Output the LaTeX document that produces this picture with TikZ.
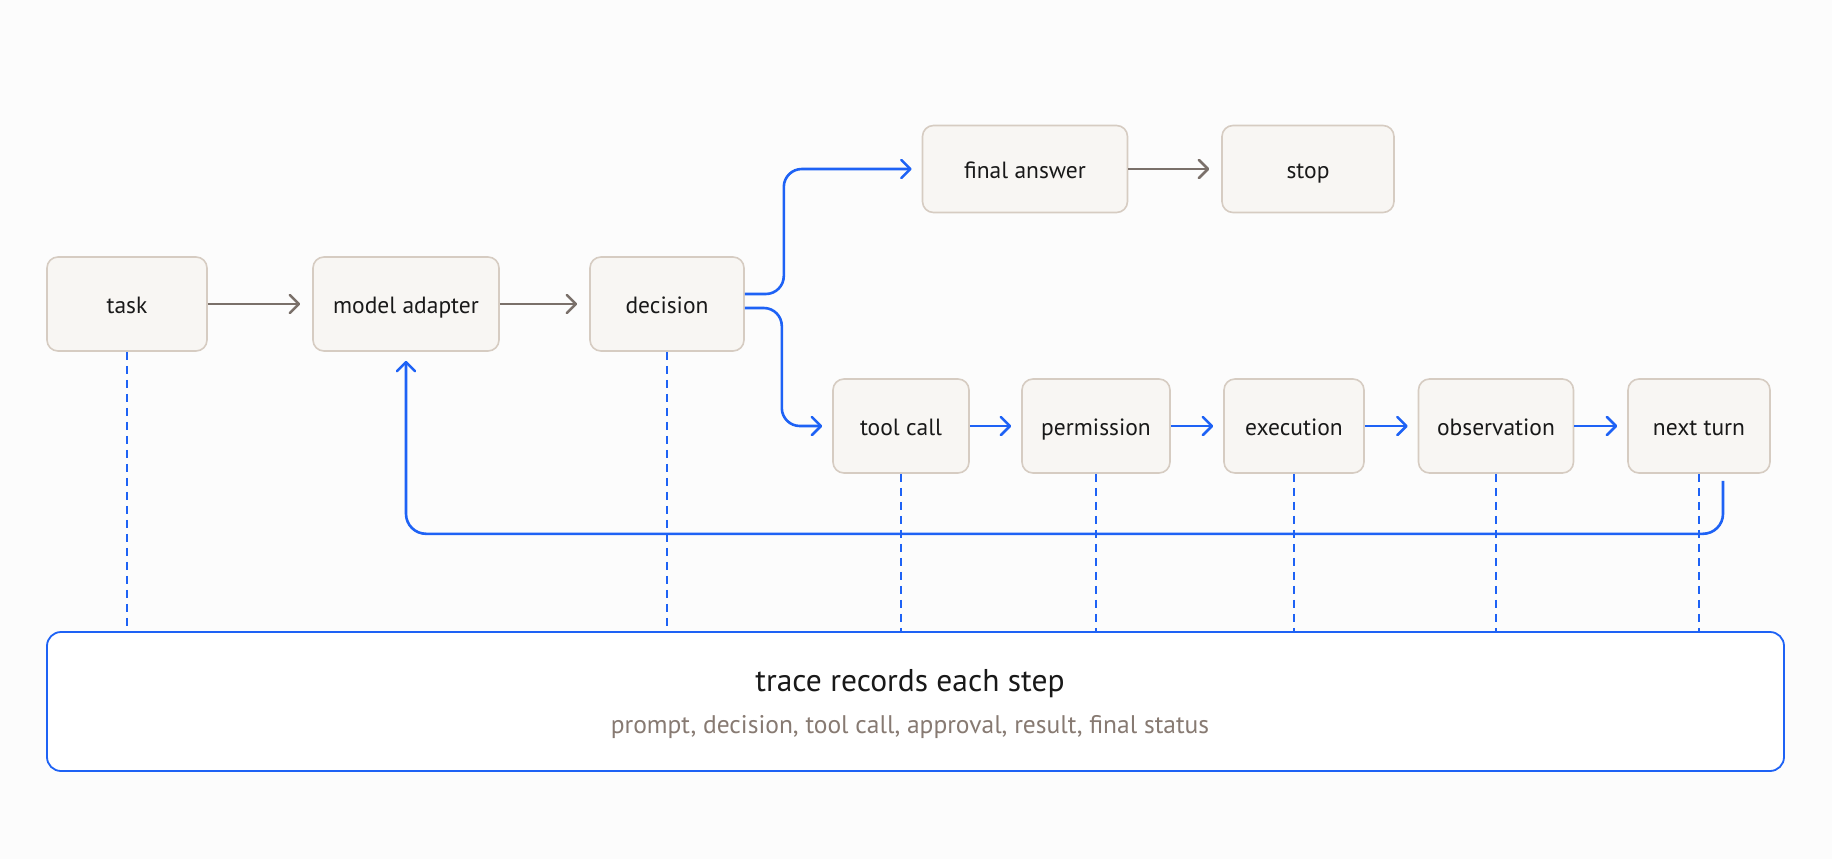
\documentclass[tikz,border=0pt]{standalone}
\usepackage{fontspec}
\setmainfont{PT Sans}
\usetikzlibrary{arrows.meta}
\definecolor{bg}{RGB}{252,252,252}
\definecolor{boxfill}{RGB}{248,246,243}
\definecolor{boxline}{RGB}{214,204,194}
\definecolor{flowblue}{RGB}{30,98,245}
\definecolor{greyarr}{RGB}{122,112,106}
\definecolor{subgrey}{RGB}{135,122,114}
\definecolor{ink}{RGB}{25,25,25}
\begin{document}
\begin{tikzpicture}[x=1pt,y=-1pt,
  stepbox/.style={draw=boxline, line width=1.6pt, fill=boxfill, rounded corners=11pt,
    minimum height=94, text=ink, font=\fontsize{23.5}{27}\selectfont, inner sep=0pt,
    text height=20pt, text depth=1pt},
  greyflow/.style={draw=greyarr, line width=2.6pt, shorten >=12pt,
    -{Straight Barb[length=9pt,width=18pt,line width=2.6pt,round]}},
  blueflow/.style={draw=flowblue, line width=2.6pt, shorten >=10pt,
    -{Straight Barb[length=9pt,width=18pt,line width=2.6pt,round]}},
  traceline/.style={draw=flowblue, line width=1.4pt, dash pattern=on 8pt off 6pt}
]
\useasboundingbox (0,0) rectangle (1832,859);
\fill[bg] (0,0) rectangle (1832,859);

% top row
\node[stepbox, minimum width=160] (task) at (127,304) {task};
\node[stepbox, minimum width=186] (model) at (406,304) {model adapter};
\node[stepbox, minimum width=154] (decision) at (667,304) {decision};
\node[stepbox, minimum width=205, minimum height=87] (final) at (1025,169) {final answer};
\node[stepbox, minimum width=172, minimum height=87] (stop) at (1308,169) {stop};

% tool row
\node[stepbox, minimum width=136] (toolcall) at (901,426) {tool call};
\node[stepbox, minimum width=148] (permission) at (1096,426) {permission};
\node[stepbox, minimum width=140] (execution) at (1294,426) {execution};
\node[stepbox, minimum width=155] (observation) at (1496,426) {observation};
\node[stepbox, minimum width=142] (nextturn) at (1699,426) {next turn};

% trace box
\node[draw=flowblue, line width=1.8pt, fill=white, rounded corners=14pt,
  minimum width=1737, minimum height=139, inner sep=0pt] (trace) at (915.5,701.5) {};
\node[text=ink, font=\fontsize{31.5}{36}\selectfont] (tracetitle) at (910,683.5) {trace records each step};
\node[text=subgrey, font=\fontsize{25.5}{30}\selectfont] (tracesub) at (910,727.5) {prompt, decision, tool call, approval, result, final status};

% dashed trace lines
\foreach \n in {task,decision,toolcall,permission,execution,observation,nextturn}{
  \draw[traceline] (\n.south) -- (\n.south |- trace.north);
}

% grey arrows
\draw[greyflow] (task.east) -- (model.west);
\draw[greyflow] (model.east) -- (decision.west);
\draw[greyflow] (final.east) -- (stop.west);

% decision branches
\draw[blueflow, rounded corners=18pt] ([yshift=10pt]decision.east) -- ++(39,0) |- (final.west);
\draw[blueflow, rounded corners=18pt] ([yshift=-4pt]decision.east) -- ++(37,0) |- (toolcall.west);

% tool chain
\draw[blueflow] (toolcall.east) -- (permission.west);
\draw[blueflow] (permission.east) -- (execution.west);
\draw[blueflow] (execution.east) -- (observation.west);
\draw[blueflow] (observation.east) -- (nextturn.west);

% loop back
\draw[blueflow, rounded corners=20pt, shorten <=7pt, shorten >=9pt]
  ([xshift=24pt]nextturn.south) -- ++(0,60) -| (model.south);
\end{tikzpicture}
\end{document}
